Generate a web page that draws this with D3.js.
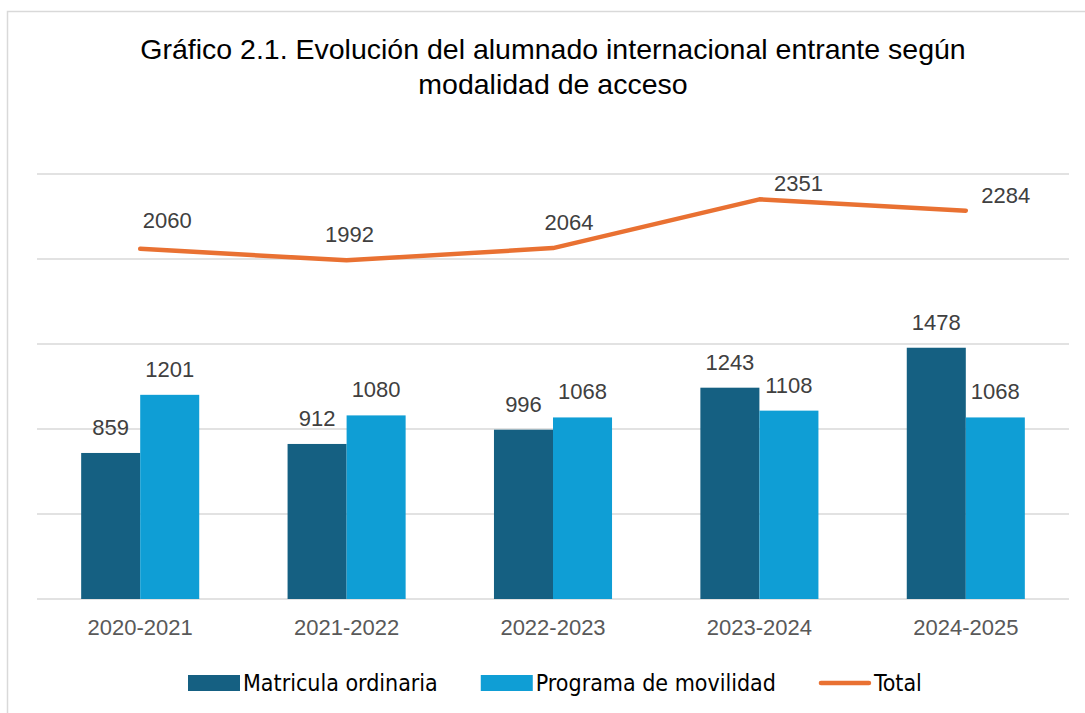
<!DOCTYPE html>
<meta charset="utf-8">
<html>
  <head>
    <script src="https://d3js.org/d3.v7.min.js"></script>
    <style>
      body { margin: 0; background: #fff; }
    </style>
  </head>
  <body>
    <svg id="chart" width="1085" height="713"></svg>
    <script>
    // data
    const years = ["2020-2021", "2021-2022", "2022-2023", "2023-2024", "2024-2025"];
    const ordinaria = [859, 912, 996, 1243, 1478];
    const movilidad = [1201, 1080, 1068, 1108, 1068];
    const total = [2060, 1992, 2064, 2351, 2284];
    const yTicks = [0, 500, 1000, 1500, 2000, 2500];
    const seriesNames = ["Matricula ordinaria", "Programa de movilidad", "Total"];
    const titleLines = ["Gráfico 2.1. Evolución del alumnado internacional entrante según", "modalidad de acceso"];

    const colors = ["#156082", "#0F9ED5", "#E97132"];
    const labelFont = "'Liberation Sans', Arial, sans-serif";

    var svg = d3.select("#chart");

    // outer box
    svg.append("path")
        .attr("d", "M7.5,713 L7.5,11.5 L1085,11.5")
        .attr("fill", "none")
        .attr("stroke", "#d9d9d9")
        .attr("stroke-width", 1.5);

    // title
    svg.append("text")
        .attr("text-anchor", "middle")
        .attr("font-family", labelFont)
        .attr("font-size", 28.5)
        .attr("fill", "#000")
        .selectAll("tspan")
        .data(titleLines)
        .enter()
        .append("tspan")
        .attr("x", 553)
        .attr("y", function(d, i) { return 59 + i * 35; })
        .text(function(d) { return d; });

    var plotLeft = 37, plotRight = 1069, plotTop = 174, base = 599;

    var y = d3.scaleLinear()
        .domain([0, 2500])
        .range([base, plotTop]);

    var x = d3.scaleBand()
        .domain(years)
        .range([plotLeft, plotRight]);

    var groupW = x.bandwidth() * 0.572;
    var x1 = d3.scaleBand()
        .domain([0, 1])
        .range([0, groupW]);

    // gridlines
    svg.append("g")
        .selectAll("line")
        .data(yTicks)
        .enter()
        .append("line")
        .attr("x1", plotLeft)
        .attr("x2", plotRight)
        .attr("y1", function(d) { return y(d); })
        .attr("y2", function(d) { return y(d); })
        .attr("stroke", "#d9d9d9")
        .attr("stroke-width", 1.5);

    // bars
    var bars = [ordinaria, movilidad];
    bars.forEach(function(vals, s) {
        svg.append("g")
            .selectAll("rect")
            .data(vals)
            .enter()
            .append("rect")
            .attr("x", function(d, i) { return x(years[i]) + (x.bandwidth() - groupW) / 2 + x1(s); })
            .attr("y", function(d) { return y(d); })
            .attr("width", x1.bandwidth())
            .attr("height", function(d) { return base - y(d); })
            .attr("fill", colors[s]);

        svg.append("g")
            .selectAll("text")
            .data(vals)
            .enter()
            .append("text")
            .attr("x", function(d, i) { return x(years[i]) + (x.bandwidth() - groupW) / 2 + x1(s) + x1.bandwidth() / 2; })
            .attr("y", function(d) { return y(d) - 18; })
            .attr("text-anchor", "middle")
            .attr("font-family", labelFont)
            .attr("font-size", 22)
            .attr("fill", "#404040")
            .text(function(d) { return d; });
    });

    // x axis labels
    var xAxis = svg.append("g")
        .attr("transform", "translate(0," + base + ")")
        .call(d3.axisBottom(x).tickSize(0).tickPadding(20));
    xAxis.select(".domain").remove();
    xAxis.selectAll("text")
        .attr("font-family", labelFont)
        .attr("font-size", 22)
        .attr("fill", "#595959");

    // total line
    var cx = function(i) { return x(years[i]) + x.bandwidth() / 2; };
    var line = d3.line()
        .x(function(d, i) { return cx(i); })
        .y(function(d) { return y(d); });

    svg.append("path")
        .datum(total)
        .attr("d", line)
        .attr("fill", "none")
        .attr("stroke", colors[2])
        .attr("stroke-width", 4.5)
        .attr("stroke-linecap", "round")
        .attr("stroke-linejoin", "round");

    // label nudges for the total line (as placed in the original)
    var totDx = [27, 3, 16, 39, 40];
    var totDy = [-21, -18, -18, -8, -8];
    svg.append("g")
        .selectAll("text")
        .data(total)
        .enter()
        .append("text")
        .attr("x", function(d, i) { return cx(i) + totDx[i]; })
        .attr("y", function(d, i) { return y(d) + totDy[i]; })
        .attr("text-anchor", "middle")
        .attr("font-family", labelFont)
        .attr("font-size", 22)
        .attr("fill", "#404040")
        .text(function(d) { return d; });

    // legend
    var legend = svg.append("g");
    var lx = 188, ly = 683;
    seriesNames.forEach(function(name, i) {
        if (i < 2) {
            legend.append("rect")
                .attr("x", lx).attr("y", ly - 8)
                .attr("width", 52).attr("height", 16)
                .attr("fill", colors[i]);
        } else {
            legend.append("line")
                .attr("x1", lx + 2).attr("x2", lx + 50)
                .attr("y1", ly).attr("y2", ly)
                .attr("stroke", colors[i])
                .attr("stroke-width", 4.5)
                .attr("stroke-linecap", "round");
        }
        var t = legend.append("text")
            .attr("x", lx + 55)
            .attr("y", ly + 8)
            .attr("font-family", "'Liberation Sans Narrow', 'DejaVu Sans Condensed', sans-serif")
            .attr("font-size", 23)
            .attr("fill", "#000")
            .text(name);
        lx = lx + 55 + t.node().getComputedTextLength() + 43;
    });
    </script>
  </body>
</html>
